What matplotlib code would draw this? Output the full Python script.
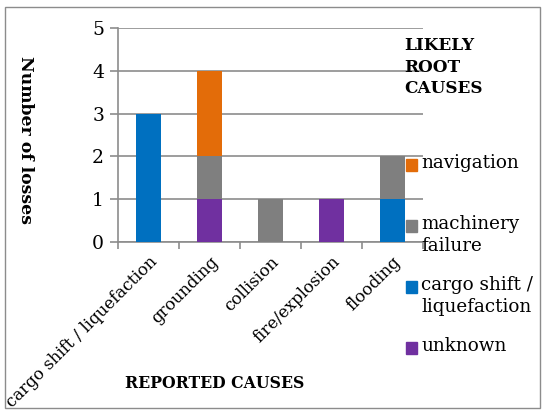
import numpy as np
import matplotlib.pyplot as plt
from matplotlib.patches import Rectangle

plt.rcParams['font.family'] = ['DejaVu Serif']

categories = ['cargo shift / liquefaction', 'grounding', 'collision', 'fire/explosion', 'flooding']
# stacked from bottom to top
series_names = ['unknown', 'cargo shift /\nliquefaction', 'machinery\nfailure', 'navigation']
unknown = [0, 1, 0, 1, 0]
cargo_shift = [3, 0, 0, 0, 1]
machinery = [0, 1, 1, 0, 1]
navigation = [0, 2, 0, 0, 0]
colors = ['#7030A0', '#0070C0', '#7F7F7F', '#E36C09']

W, H = 545, 413
fig = plt.figure(figsize=(W / 100, H / 100), dpi=100)
ax = fig.add_axes([118 / W, 1 - 242 / H, 305 / W, 214 / H])

x = np.arange(len(categories))
bottom = np.zeros(len(categories))
for vals, c in zip([unknown, cargo_shift, machinery, navigation], colors):
    ax.bar(x, vals, 0.4, bottom=bottom, color=c, zorder=3)
    bottom += np.array(vals)

ax.set_xlim(-0.5, len(categories) - 0.5)
ax.set_ylim(0, 5)
ax.set_yticks(range(6))
ax.yaxis.grid(True, color='#8c8c8c', lw=1.2, zorder=0)
for s in ['top', 'right']:
    ax.spines[s].set_visible(False)
for s in ['left', 'bottom']:
    ax.spines[s].set_color('#8c8c8c')
    ax.spines[s].set_linewidth(1.2)

ax.set_xticks(x)
ax.set_xticklabels(categories, rotation=45, ha='right', rotation_mode='anchor', fontsize=12)
ax.set_xticks(np.arange(-0.5, len(categories)), minor=True)
ax.tick_params(axis='x', which='major', length=0, pad=8)
ax.tick_params(axis='x', which='minor', length=5, color='#8c8c8c', width=1.2)
ax.tick_params(axis='y', length=6, color='#8c8c8c', width=1.2, labelsize=13.5, pad=4)

fig.text(25 / W, 1 - 140 / H, 'Number of losses', rotation=270, ha='center', va='center',
         fontsize=12.4, fontweight='bold')
fig.text(215 / W, 1 - 383 / H, 'REPORTED CAUSES', ha='center', va='center',
         fontsize=11.3, fontweight='bold')

# legend drawn by hand, top entry first
fig.text(404 / W, 1 - 37 / H, 'LIKELY\nROOT\nCAUSES', ha='left', va='top',
         fontsize=12.2, fontweight='bold', linespacing=1.35)
for i, (name, c) in enumerate(zip(series_names[::-1], colors[::-1])):
    yc = 165 + 61 * i
    fig.patches.append(Rectangle((406 / W, 1 - (yc + 6) / H), 11 / W, 12 / H,
                                 transform=fig.transFigure, color=c))
    fig.text(421 / W, 1 - (yc - 11) / H, name, ha='left', va='top', fontsize=13.2,
             linespacing=1.3)

fig.patches.append(Rectangle((5 / W, 5 / H), 535 / W, 401 / H, transform=fig.transFigure,
                             fill=False, edgecolor='#8c8c8c', lw=1))

fig.savefig('out.png', dpi=100)
